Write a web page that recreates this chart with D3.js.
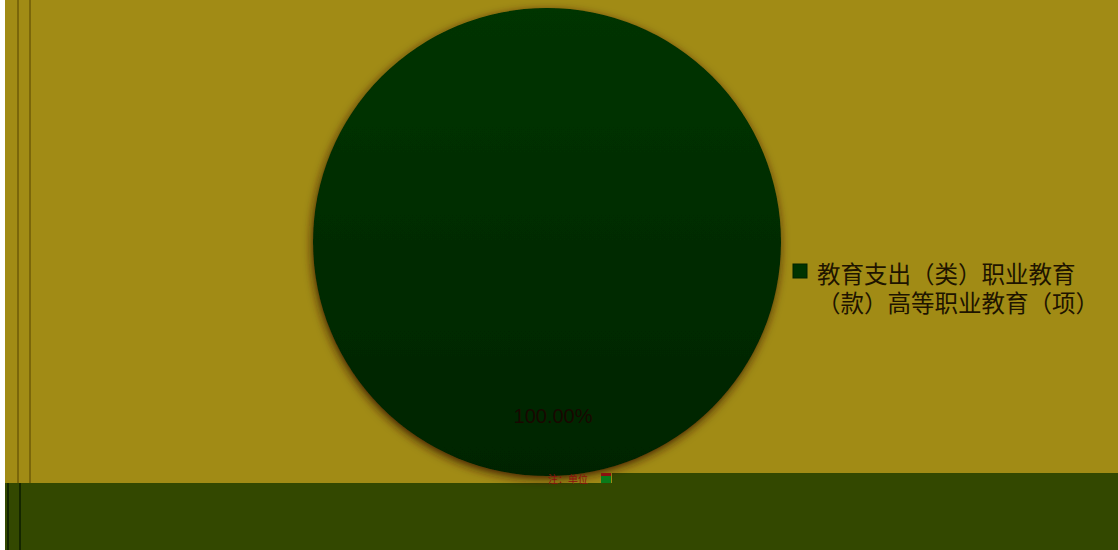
<!DOCTYPE html>
<html>
<head>
<meta charset="utf-8">
<script src="https://cdn.jsdelivr.net/npm/d3@7"></script>
<style>
  html, body { margin: 0; padding: 0; background: #ffffff; }
  svg { display: block; }
</style>
</head>
<body>
<div id="pie-chart"></div>
<script>
// chart data
const categories = ["教育支出（类）职业教育（款）高等职业教育（项）"];
const values = [100];
const legendLines = ["教育支出（类）职业教育", "（款）高等职业教育（项）"];
const sliceColors = ["#003300"];

const width = 1118, height = 550;

const svg = d3.select("#pie-chart")
  .append("svg")
  .attr("width", width)
  .attr("height", height);

const defs = svg.append("defs");

// soft shadow round the pie
const shadow = defs.append("filter")
  .attr("id", "pie-shadow")
  .attr("x", "-10%").attr("y", "-10%")
  .attr("width", "120%").attr("height", "120%");
shadow.append("feGaussianBlur").attr("in", "SourceAlpha").attr("stdDeviation", 5).attr("result", "blur");
shadow.append("feOffset").attr("in", "blur").attr("dx", -1).attr("dy", 3).attr("result", "off");
shadow.append("feFlood").attr("flood-color", "#3a1800").attr("flood-opacity", 0.9);
shadow.append("feComposite").attr("in2", "off").attr("operator", "in").attr("result", "sh");
const merge = shadow.append("feMerge");
merge.append("feMergeNode").attr("in", "sh");
merge.append("feMergeNode").attr("in", "SourceGraphic");

const grad = defs.append("linearGradient")
  .attr("id", "slice-grad")
  .attr("x1", 0).attr("y1", 0).attr("x2", 0).attr("y2", 1);
grad.append("stop").attr("offset", "0%").attr("stop-color", "#003400");
grad.append("stop").attr("offset", "100%").attr("stop-color", "#002400");

// backgrounds
svg.append("rect")
  .attr("x", 5).attr("y", 0)
  .attr("width", width - 5).attr("height", height)
  .attr("fill", "#a18b15");

// bottom band (stepped)
svg.append("rect")
  .attr("x", 5).attr("y", 483)
  .attr("width", width - 5).attr("height", height - 483)
  .attr("fill", "#334800");
svg.append("rect")
  .attr("x", 612).attr("y", 473)
  .attr("width", width - 612).attr("height", 12)
  .attr("fill", "#334800");

// left edge lines
[18, 30].forEach(x => {
  svg.append("line")
    .attr("x1", x).attr("x2", x).attr("y1", 0).attr("y2", 483)
    .attr("stroke", "#7a660a").attr("stroke-width", 2);
});
[8, 20].forEach(x => {
  svg.append("line")
    .attr("x1", x).attr("x2", x).attr("y1", 483).attr("y2", height)
    .attr("stroke", "#142600").attr("stroke-width", 2);
});

// pie
const cx = 547, cy = 242, radius = 234;
const pie = d3.pie().sort(null).value(d => d);
const arc = d3.arc().innerRadius(0).outerRadius(radius);
const arcs = pie(values);

const g = svg.append("g")
  .attr("transform", `translate(${cx},${cy})`);

g.selectAll("path.slice")
  .data(arcs)
  .join("path")
  .attr("class", "slice")
  .attr("d", arc)
  .attr("fill", "url(#slice-grad)")
  .attr("filter", "url(#pie-shadow)");

const total = d3.sum(values);
const labelArc = d3.arc().innerRadius(radius * 0.74).outerRadius(radius * 0.74);

g.selectAll("text.pct")
  .data(arcs)
  .join("text")
  .attr("class", "pct")
  .attr("x", d => arcs.length === 1 ? 6 : labelArc.centroid(d)[0])
  .attr("y", d => arcs.length === 1 ? 181 : labelArc.centroid(d)[1])
  .attr("text-anchor", "middle")
  .style("font-family", "'Liberation Sans', Arial, sans-serif")
  .style("font-size", "20px")
  .style("fill", "#180800")
  .text(d => (d.value / total * 100).toFixed(2) + "%");

// small garbled note under the pie
svg.append("text")
  .attr("x", 548).attr("y", 483)
  .style("font-family", "'Noto Sans CJK SC', sans-serif")
  .style("font-size", "10px")
  .style("fill", "#8a1010")
  .text("注：单位");
svg.append("rect")
  .attr("x", 601).attr("y", 476).attr("width", 10).attr("height", 7)
  .attr("fill", "#0a7a1a");
svg.append("rect")
  .attr("x", 601).attr("y", 473).attr("width", 10).attr("height", 3)
  .attr("fill", "#8a1010");

// legend
const legend = svg.append("g")
  .attr("transform", "translate(793,264)");

legend.selectAll("rect")
  .data(categories)
  .join("rect")
  .attr("width", 14)
  .attr("height", 14)
  .attr("fill", sliceColors[0])
  .attr("stroke", "#002200")
  .attr("stroke-width", 1);

legend.selectAll("text")
  .data(legendLines)
  .join("text")
  .attr("x", 24)
  .attr("y", (d, i) => 19 + i * 29)
  .style("font-family", "'Noto Sans CJK SC', sans-serif")
  .style("font-size", "23.5px")
  .style("fill", "#1e1400")
  .text(d => d);
</script>
</body>
</html>
